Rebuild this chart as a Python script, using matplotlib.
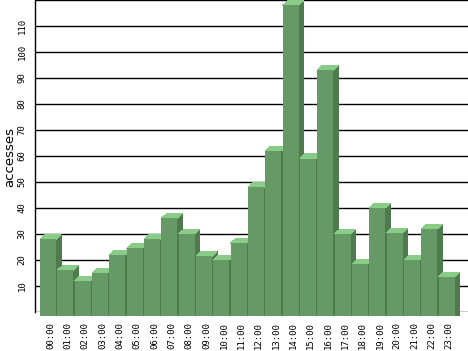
import numpy as np
import matplotlib
matplotlib.use("Agg")
import matplotlib.pyplot as plt
from matplotlib.patches import Polygon, Rectangle

hours = ["%02d:00" % h for h in range(24)]
accesses = [28, 16, 12, 15, 22, 24.5, 28, 36, 30, 21.5, 20, 26.5,
            48, 62, 118, 59, 93, 30, 18.5, 40, 30.5, 20, 32, 13.5]
y_ticks = list(range(0, 121, 10))

front_c = "#669966"
top_c = "#88cc88"
side_c = "#4e7a4e"

W, H = 468, 351
fig = plt.figure(figsize=(W / 100, H / 100), dpi=100)
# axes box in pixels: left 35, bottom at y=312, reaches right and top edge
ax = fig.add_axes([35 / W, (H - 312) / H, (W - 35) / W, 312 / H])
ax.set_xlim(-0.75, 24.23)
ax.set_ylim(0, 120)

# pixel -> data unit conversions for the 3d look
px_x = 1 / 17.33
px_y = 1 / 2.6
bw = 16 * px_x
dx = 5 * px_x
dy = 4.7 * px_y
base = -3.7 * px_y

# grid lines behind the bars
ax.hlines(y_ticks, -0.75, 24.23, colors="black", linewidth=1.0, zorder=1)

for i, v in enumerate(accesses):
    x0, x1 = i - bw / 2, i + bw / 2
    side = Polygon([(x1, base), (x1, v), (x1 + dx, v + dy), (x1 + dx, base)],
                   closed=True, facecolor=side_c, edgecolor="none",
                   clip_on=False, zorder=3, antialiased=False)
    top = Polygon([(x0, v), (x1, v), (x1 + dx, v + dy), (x0 + dx, v + dy)],
                  closed=True, facecolor=top_c, edgecolor="none",
                  clip_on=False, zorder=3, antialiased=False)
    front = Rectangle((x0, base), bw, v - base, facecolor=front_c,
                      edgecolor="none", clip_on=False, zorder=3,
                      antialiased=False)
    ax.add_patch(side)
    ax.add_patch(top)
    ax.add_patch(front)

ax.set_yticks(y_ticks, labels=["" if t in (0, 120) else str(t) for t in y_ticks])
ax.tick_params(axis="y", length=0, pad=6, labelrotation=90, labelsize=6.5)
for lab in ax.get_yticklabels():
    lab.set_fontfamily("DejaVu Sans Mono")
    lab.set_va("center")

ax.set_xticks(np.arange(24) + 0.15, labels=hours)
ax.tick_params(axis="x", length=0, pad=7, labelrotation=90, labelsize=6.5)
for lab in ax.get_xticklabels():
    lab.set_fontfamily("DejaVu Sans Mono")
    lab.set_va("top")

for s in ["top", "right", "bottom"]:
    ax.spines[s].set_visible(False)
ax.spines["left"].set_linewidth(1.0)
ax.spines["left"].set_color("black")

fig.text(10 / W, 1 - 157 / H, "accesses", rotation=90, ha="center",
         va="center", fontsize=9.5)

fig.savefig("out.png", dpi=100)
